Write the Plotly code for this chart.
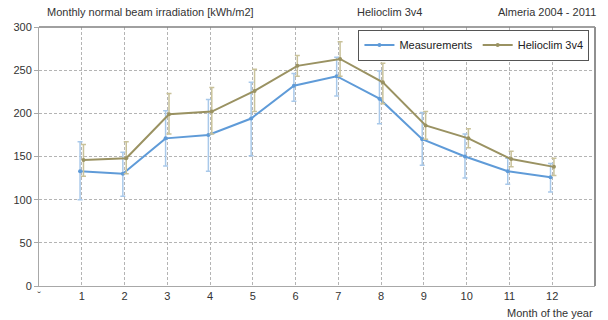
import plotly.graph_objects as go

# Monthly normal beam irradiation, Almeria 2004-2011 (kWh/m2)
months = [1, 2, 3, 4, 5, 6, 7, 8, 9, 10, 11, 12]
tick_labels = ["ˇ", "1", "2", "3", "4", "5", "6", "7", "8", "9", "10", "11", "12"]

meas = [133, 130, 171, 175, 194, 232, 243, 217, 170, 150, 133, 126]
meas_hi = [167, 155, 203, 216, 236, 246, 265, 249, 201, 176, 148, 142]
meas_lo = [100, 104, 139, 133, 151, 214, 220, 188, 140, 125, 118, 109]

hc = [146, 148, 199, 202, 226, 255, 263, 236, 186, 171, 147, 138]
hc_hi = [164, 167, 223, 230, 251, 267, 283, 258, 202, 182, 156, 148]
hc_lo = [127, 130, 176, 176, 202, 243, 243, 211, 170, 160, 138, 128]

BLUE = "#5f9bd8"
BLUE_ERR = "#a9c9ea"
OLIVE = "#9a9262"
OLIVE_ERR = "#c9c29a"
FONT = "Liberation Sans, Arial, sans-serif"

def series(name, x_shift, y, hi, lo, color, err_color):
    return go.Scatter(
        x=[m + x_shift for m in months], y=y, name=name,
        mode="lines+markers",
        line=dict(color=color, width=2),
        marker=dict(color=color, size=4),
        error_y=dict(type="data", symmetric=False,
                     array=[h - v for h, v in zip(hi, y)],
                     arrayminus=[v - l for v, l in zip(y, lo)],
                     color=err_color, thickness=1.5, width=2.5),
    )

fig = go.Figure()
fig.add_trace(series("Measurements", -0.04, meas, meas_hi, meas_lo, BLUE, BLUE_ERR))
fig.add_trace(series("Helioclim 3v4", 0.04, hc, hc_hi, hc_lo, OLIVE, OLIVE_ERR))

axis_common = dict(
    showgrid=True, gridcolor="#b4b4b4", griddash="3px,2px", gridwidth=1,
    showline=True, linecolor="#a8a8a8", linewidth=1,
    tickfont=dict(family=FONT, size=11, color="#333"),
    zeroline=False,
)

fig.update_layout(
    width=608, height=320,
    margin=dict(l=39, r=13, t=27, b=34),
    paper_bgcolor="white", plot_bgcolor="white",
    font=dict(family=FONT, size=11, color="#333"),
    xaxis=dict(range=[0, 13], tickvals=list(range(0, 13)), ticktext=tick_labels,
               ticks="", **axis_common),
    yaxis=dict(range=[0, 300], tickvals=[0, 50, 100, 150, 200, 250, 300],
               ticks="outside", ticklen=4, tickcolor="#a8a8a8", **axis_common),
    showlegend=True,
    legend=dict(orientation="h", x=0.99, xanchor="right", y=0.99, yanchor="top",
                bgcolor="white", bordercolor="#555", borderwidth=1,
                font=dict(family=FONT, size=11, color="#222"),
                itemwidth=30, tracegroupgap=0),
    annotations=[
        dict(text="Monthly normal beam irradiation [kWh/m2]", xref="paper", yref="paper",
             x=0.01, y=1.058, xanchor="left", yanchor="middle", showarrow=False,
             font=dict(family=FONT, size=11, color="#333")),
        dict(text="Helioclim 3v4", xref="paper", yref="paper",
             x=0.63, y=1.058, xanchor="center", yanchor="middle", showarrow=False,
             font=dict(family=FONT, size=11, color="#333")),
        dict(text="Almeria 2004 - 2011", xref="paper", yref="paper",
             x=1.005, y=1.058, xanchor="right", yanchor="middle", showarrow=False,
             font=dict(family=FONT, size=11, color="#333")),
        dict(text="Month of the year", xref="paper", yref="paper",
             x=1.0, y=-0.104, xanchor="right", yanchor="middle", showarrow=False,
             font=dict(family=FONT, size=11, color="#333")),
    ],
    shapes=[
        dict(type="line", xref="paper", yref="paper", x0=0, x1=1, y0=1, y1=1,
             line=dict(color="#808080", width=1.5)),
        dict(type="line", xref="paper", yref="paper", x0=1, x1=1, y0=0, y1=1,
             line=dict(color="#909090", width=2)),
    ],
)

fig.write_html("out.html")
